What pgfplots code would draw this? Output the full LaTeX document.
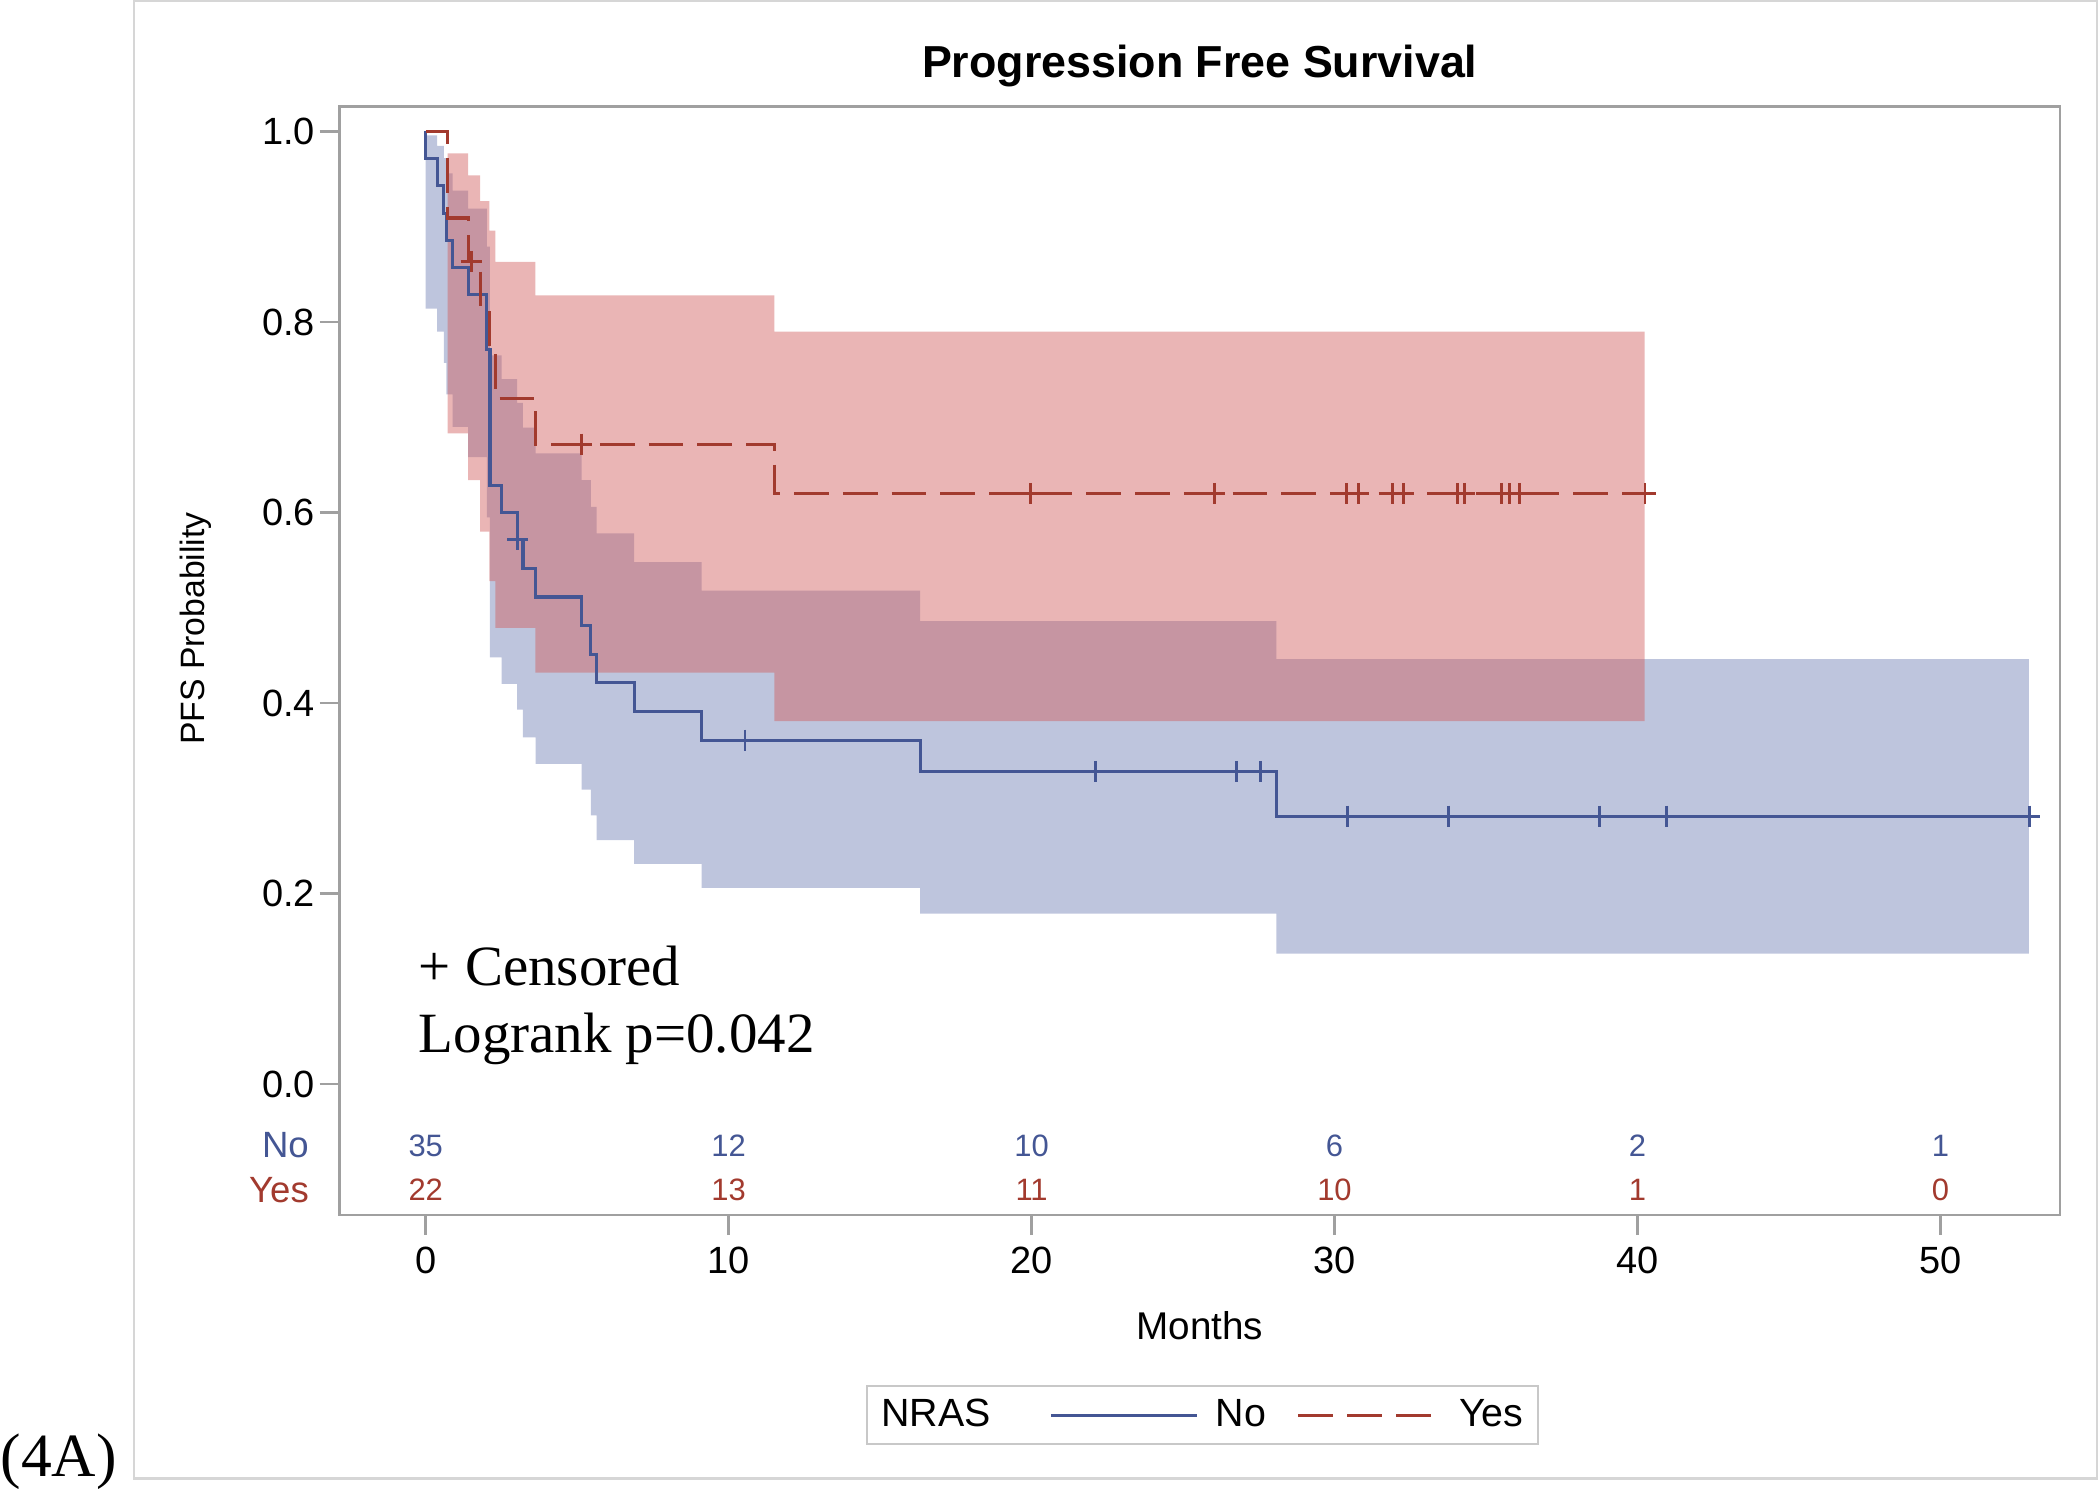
\documentclass[border=0pt]{standalone}
\usepackage{pgfplots}
\pgfplotsset{compat=1.18}
\usepackage{fontspec}
\setmainfont{Liberation Sans}
\newfontfamily\seriffont{Liberation Serif}
\definecolor{nocol}{HTML}{445694}
\definecolor{yescol}{HTML}{A23A2E}
\definecolor{nofill}{HTML}{6F7EB3}
\definecolor{yesfill}{HTML}{D05B5B}
\definecolor{framegray}{HTML}{A0A0A0}
\definecolor{legendgray}{HTML}{C8C8C8}
\definecolor{outergray}{HTML}{D6D6D6}
\begin{document}
\begin{tikzpicture}
\path[use as bounding box] (0,0) rectangle (21,14.88);
\draw[outergray, line width=0.7pt] (1.34,0.094) rectangle (20.97,14.87);
\node[anchor=base west, inner sep=0pt, font=\seriffont\fontsize{17.5}{20}\selectfont] at (0,0.12) {(4A)};
\begin{axis}[
  at={(3.395cm,2.73cm)}, anchor=south west,
  scale only axis, width=17.205cm, height=11.083cm,
  xmin=-2.846, xmax=53.95, ymin=-0.1375, ymax=1.026,
  xtick={0,10,20,30,40,50}, ytick={0,0.2,0.4,0.6,0.8,1},
  tick pos=left, tick align=outside, major tick length=0.2cm,
  axis line style={draw=framegray, line width=0.7pt},
  tick style={draw=framegray, line width=0.7pt},
  tick label style={font=\fontsize{10.8}{13}\selectfont},
  yticklabel style={xshift=0.08cm},
  /pgf/number format/assume math mode=true,
  yticklabel style={/pgf/number format/.cd, fixed, fixed zerofill, precision=1},
  title={Progression Free Survival},
  title style={at={(axis description cs:0.5,1.0077)}, anchor=base, font=\bfseries\fontsize{12.75}{15}\selectfont},
  xlabel={Months},
  xlabel style={at={(axis description cs:0.5,-0.1119)}, anchor=base, font=\fontsize{11}{13}\selectfont},
  ylabel={PFS Probability},
  ylabel style={at={(axis description cs:-0.0837,0.5292)}, anchor=center, font=\fontsize{9.6}{12}\selectfont},
  clip=false,
  legend columns=-1,
  legend style={at={(axis description cs:0.5016,-0.1534)}, anchor=north, draw=legendgray, line width=0.6pt,
    inner xsep=2pt, inner ysep=1.6pt, font=\fontsize{11.2}{13}\selectfont, /tikz/column sep=0pt},
]
\addlegendimage{empty legend}
\addlegendentry{NRAS}

% Blue (No) confidence band
\addplot[const plot, fill=nofill, fill opacity=0.45, draw=none, forget plot] coordinates {
(0,0.996) (0.38,0.985) (0.60,0.972) (0.68,0.956) (0.89,0.938) (1.40,0.919) (2.02,0.879) (2.12,0.765)
(2.51,0.740) (3.02,0.715) (3.21,0.689) (3.63,0.662) (5.15,0.634) (5.45,0.606) (5.64,0.578) (6.88,0.548)
(9.11,0.518) (16.32,0.486) (28.08,0.446) (52.92,0.446)
(52.92,0.137) (28.08,0.179) (16.32,0.206) (9.11,0.231) (6.88,0.256) (5.64,0.282) (5.45,0.309) (5.15,0.336)
(3.63,0.364) (3.21,0.393) (3.02,0.420) (2.51,0.448) (2.12,0.595) (2.02,0.658) (1.40,0.690) (0.89,0.724)
(0.68,0.757) (0.60,0.790) (0.38,0.814) (0,0.814)
};
% Red (Yes) confidence band
\addplot[const plot, fill=yesfill, fill opacity=0.45, draw=none, forget plot] coordinates {
(0.72,0.977) (1.40,0.954) (1.80,0.927) (2.10,0.896) (2.30,0.863) (3.62,0.828) (11.51,0.790) (40.24,0.790)
(40.24,0.381) (11.51,0.432) (3.62,0.479) (2.30,0.528) (2.10,0.580) (1.80,0.634) (1.40,0.683) (0.72,0.683)
};

% Blue survival curve
\addplot[const plot, color=nocol, line width=0.9pt,
  legend image code/.code={\path[draw=none, fill=none] (0cm,0cm) rectangle (2.11cm,0cm); \draw[nocol, line width=0.9pt, solid] (0.53cm,0cm) -- (1.99cm,0cm);}]
coordinates {
(0,1) (0,0.9714) (0.38,0.9429) (0.60,0.9143) (0.68,0.8857) (0.89,0.8571) (1.40,0.8286) (2.02,0.7714)
(2.12,0.6286) (2.51,0.6000) (3.02,0.5714) (3.21,0.5414) (3.63,0.5113) (5.15,0.4812) (5.45,0.4511)
(5.64,0.4211) (6.88,0.3910) (9.11,0.3609) (16.32,0.3281) (28.08,0.2812) (52.94,0.2812)
};
\addlegendentry{No}

% Red survival curve
\addplot[const plot, color=yescol, line width=0.9pt, dash pattern=on 0.347cm off 0.14cm,
  legend image code/.code={\path[draw=none, fill=none] (0cm,0cm) rectangle (1.79cm,0cm); \draw[yescol, line width=0.9pt, dash pattern=on 0.35cm off 0.14cm] (0.25cm,0cm) -- (1.58cm,0cm);}]
coordinates {
(0,1) (0.72,0.9091) (1.40,0.8636) (1.80,0.8157) (2.10,0.7677) (2.30,0.7197) (3.62,0.6717) (11.51,0.6200) (40.25,0.6200)
};
\addlegendentry{Yes\hspace{0.05cm}}

% Censored marks
\addplot[only marks, mark=+, mark size=3pt, color=nocol, mark options={solid, line width=0.8pt}, forget plot] coordinates {
(3.04,0.5714) (10.54,0.3609) (22.11,0.3281) (26.77,0.3281) (27.55,0.3281)
(30.42,0.2812) (33.76,0.2812) (38.76,0.2812) (40.95,0.2812) (52.94,0.2812)
};
\addplot[only marks, mark=+, mark size=3pt, color=yescol, mark options={solid, line width=0.8pt}, forget plot] coordinates {
(1.50,0.8636) (5.15,0.6717) (19.96,0.62) (26.05,0.62) (30.39,0.62) (30.79,0.62) (31.92,0.62) (32.28,0.62)
(34.06,0.62) (34.28,0.62) (35.50,0.62) (35.78,0.62) (36.11,0.62) (40.25,0.62)
};

% Numbers at risk
\addplot[draw=none, mark=none, forget plot, nodes near coords, point meta=explicit symbolic,
  nodes near coords align={anchor=center},
  every node near coord/.append style={anchor=center, text=nocol, inner sep=0pt, font=\fontsize{8.8}{10}\selectfont}]
coordinates {(0,-0.0645)[35] (10,-0.0645)[12] (20,-0.0645)[10] (30,-0.0645)[6] (40,-0.0645)[2] (50,-0.0645)[1]};
\addplot[draw=none, mark=none, forget plot, nodes near coords, point meta=explicit symbolic,
  nodes near coords align={anchor=center},
  every node near coord/.append style={anchor=center, text=yescol, inner sep=0pt, font=\fontsize{8.8}{10}\selectfont}]
coordinates {(0,-0.111)[22] (10,-0.111)[13] (20,-0.111)[11] (30,-0.111)[10] (40,-0.111)[1] (50,-0.111)[0]};

\node[anchor=east, inner sep=0pt, xshift=-0.30cm, text=nocol, font=\fontsize{10.4}{12}\selectfont] at (axis cs:-2.846,-0.0645) {No};
\node[anchor=east, inner sep=0pt, xshift=-0.30cm, text=yescol, font=\fontsize{10.4}{12}\selectfont] at (axis cs:-2.846,-0.111) {Yes};

\node[anchor=base west, inner sep=0pt, font=\seriffont\fontsize{16.2}{19}\selectfont] at (axis cs:-0.25,0.1032) {+ Censored};
\node[anchor=base west, inner sep=0pt, font=\seriffont\fontsize{16.2}{19}\selectfont] at (axis cs:-0.25,0.0329) {Logrank p=0.042};
\end{axis}
\end{tikzpicture}
\end{document}
